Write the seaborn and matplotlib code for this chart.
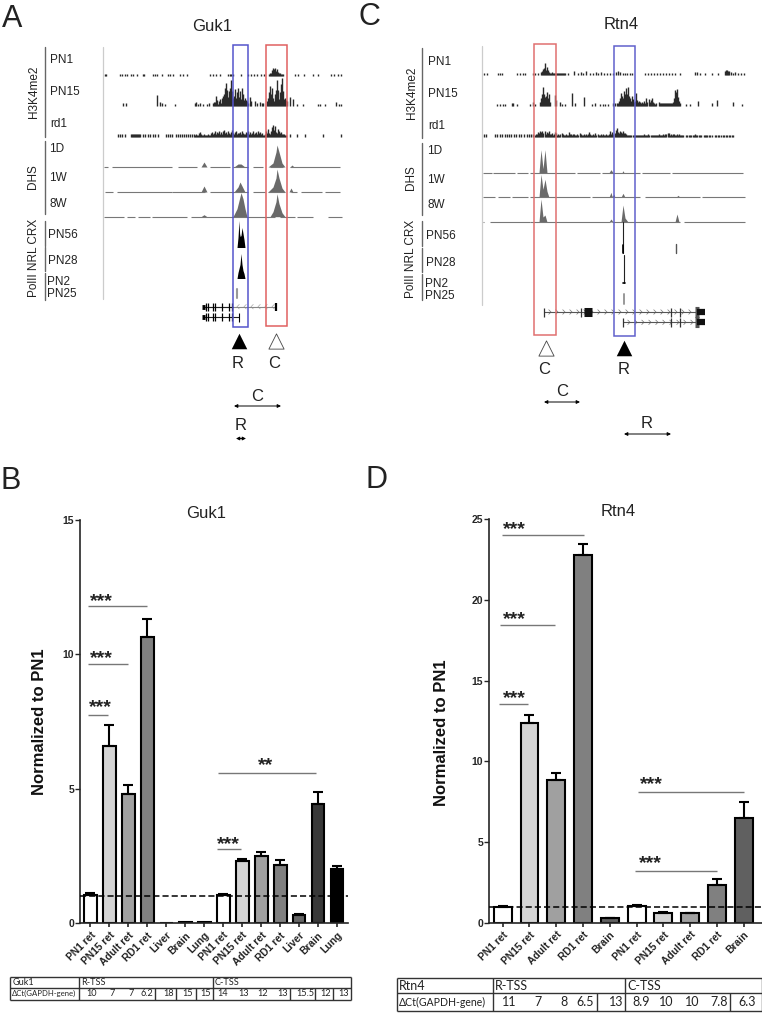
import numpy as np
import pandas as pd
import matplotlib
matplotlib.use('Agg')
import matplotlib.pyplot as plt
from matplotlib.patches import Rectangle
from matplotlib.path import Path
import seaborn as sns

# Bar data, panel B
guk1_labels = ['PN1 ret', 'PN15 ret', 'Adult ret', 'RD1 ret', 'Liver', 'Brain', 'Lung',
               'PN1 ret', 'PN15 ret', 'Adult ret', 'RD1 ret', 'Liver', 'Brain', 'Lung']
guk1_values = [1.05, 6.6, 4.82, 10.65, 0, 0.03, 0.04, 1.05, 2.32, 2.52, 2.18, 0.3, 4.43, 2.02]
guk1_err = [0.07, 0.77, 0.32, 0.68, 0, 0, 0, 0.05, 0.06, 0.14, 0.17, 0.05, 0.47, 0.12]
guk1_colors = ['#ffffff', '#d4d4d4', '#a0a0a0', '#808080', '#666666', '#383838', '#000000',
               '#ffffff', '#d4d4d4', '#a0a0a0', '#808080', '#666666', '#383838', '#000000']
guk1_sig_x0 = [-0.1, -0.1, -0.13, 6.74, 6.67]
guk1_sig_x1 = [3.0, 2.0, 0.95, 11.9, 7.95]
guk1_sig_y = [11.8, 9.65, 7.73, 5.6, 2.75]
guk1_star_x = [0.61, 0.61, 0.55, 9.26, 7.26]
guk1_star_y = [12.1, 9.97, 8.16, 6.0, 3.06]
guk1_stars = ['***', '***', '***', '**', '***']

# Bar data, panel D
rtn4_labels = ['PN1 ret', 'PN15 ret', 'Adult ret', 'RD1 ret', 'Brain',
               'PN1 ret', 'PN15 ret', 'Adult ret', 'RD1 ret', 'Brain']
rtn4_values = [1.0, 12.37, 8.86, 22.8, 0.3, 1.05, 0.62, 0.6, 2.35, 6.48]
rtn4_err = [0.05, 0.5, 0.41, 0.7, 0.02, 0.07, 0.05, 0.03, 0.37, 0.99]
rtn4_colors = ['#ffffff', '#d4d4d4', '#a0a0a0', '#808080', '#606060',
               '#ffffff', '#d4d4d4', '#a0a0a0', '#808080', '#606060']
rtn4_sig_x0 = [-0.03, -0.09, -0.13, 5.06, 4.95]
rtn4_sig_x1 = [3.04, 1.94, 0.94, 9.0, 7.99]
rtn4_sig_y = [24.05, 18.45, 13.55, 8.08, 3.22]
rtn4_star_x = [0.43, 0.42, 0.42, 5.57, 5.51]
rtn4_star_y = [24.6, 19.03, 14.13, 8.78, 3.89]

# Delta Ct tables
guk1_ct = ['10', '7', '7', '6.2', '18', '15', '15', '14', '13', '12', '13', '15.5', '12', '13']
guk1_ct_x = [91.7, 112, 131, 146.7, 169, 188, 205.7, 223, 244, 263, 282.7, 305, 325.7, 344]
rtn4_ct = ['11', '7', '8', '6.5', '13', '8.9', '10', '10', '7.8', '6.3']
rtn4_ct_x = [509, 537.7, 563.7, 585, 616.7, 641, 666.7, 692, 719, 746.7]

# Browser tracks, panel A (position along the view, height)
a_pn1_x = [105, 106, 120, 122, 125, 127, 131, 133, 137, 143, 144, 153, 155, 157, 162, 168, 170, 173, 180, 183, 187,
           210, 213, 216, 220, 228, 230, 231, 233, 241, 248, 251, 254, 257, 261, 264, 295, 298, 304, 313, 318, 331, 334, 338, 341]
a_pn1_peak = [2, 3, 3, 6, 8, 7, 8, 5, 7, 4, 3, 3, 2, 2, 2]
a_pn15_x = [123, 126, 160, 162, 165, 175, 195, 196, 198, 200, 203, 207, 209]
a_pn15_h = [3, 3, 4, 3, 2, 2, 3, 4, 2, 3, 2, 2, 3]
a_pn15_r = [3, 4, 4, 10, 6, 2, 5, 7, 3, 8, 10, 12, 18, 23, 16, 9, 15, 18, 26, 15, 8, 10, 17, 8, 14, 18, 9, 15, 7, 18, 12, 6, 8, 6, 5, 3]
a_pn15_c = [5, 8, 14, 20, 12, 18, 8, 5, 12, 16, 26, 16, 7, 14, 22, 28, 15, 7, 8, 6, 5]
a_pn15_y = [157, 250, 251, 255, 257, 260, 262, 263, 290, 293, 297, 303, 318, 320, 325, 336, 339, 341]
a_pn15_k = [11, 9, 5, 5, 3, 4, 3, 3, 9, 7, 2, 2, 2, 2, 2, 4, 2, 2]
a_rd1_x = [118, 120, 122, 125, 131, 132, 133, 134, 135, 136, 137, 138, 139, 140, 143, 145, 148, 150, 153, 155, 158,
           166, 168, 170, 172, 176, 178, 180, 182, 184, 186, 188, 190, 192, 194, 290, 297, 305, 323, 341]
a_rd1_dense = [2, 3, 2, 2, 4, 5, 3, 2, 2, 3, 2, 2, 2, 3, 2, 2, 4, 5, 3, 4, 6, 3, 5, 4, 6, 3, 5, 3, 6, 7, 4, 5, 3, 6, 4, 3, 5, 7, 4, 3, 5, 6,
               3, 4, 4, 5, 3, 6, 4, 3, 3, 5, 4, 6, 3, 5, 3, 4, 6, 3, 4, 5, 3, 6, 4, 5, 3, 4, 2, 2, 3, 6, 4, 8, 4, 3, 6, 10, 12, 7, 11, 5, 4, 8, 6, 4, 5, 3, 3, 3, 2, 2]
a_dhs_segs = [[(104, 108), (112, 172), (178, 197), (210, 230), (233, 248), (253, 263), (270, 283), (290, 340)],
              [(105, 113), (117, 172), (172, 205), (210, 248), (253, 265), (268, 285), (291, 297), (301, 322), (325, 340)],
              [(104, 124), (127, 135), (138, 150), (152, 187), (191, 275), (280, 295), (297, 313), (328, 342)]]
a_dhs_peaks = [[([201, 204, 207], [0, 5, 0]), ([234, 238, 241, 245], [0, 3, 3, 0]), ([268, 273, 276, 277, 279, 282, 285], [0, 4, 15, 22, 15, 4, 0]), ([290, 292, 294], [0, 2, 0])],
               [([201, 204, 207], [0, 6, 0]), ([234, 238, 240, 242, 245], [0, 5, 10, 6, 0]), ([268, 273, 276, 277, 279, 282, 285], [0, 5, 14, 23, 14, 4, 0]), ([289, 291, 293], [0, 4, 0])],
               [([201, 204, 207], [0, 2, 0]), ([233, 237, 240, 241, 243, 245, 247], [0, 8, 20, 24, 18, 8, 0]), ([270, 273, 276, 277, 279, 282, 285], [0, 5, 15, 23, 13, 4, 0])]]
a_chip_peaks = [([237, 238, 239, 239.6, 240.2, 241, 242, 243, 244, 245], [0, 10, 27, 14, 11, 12, 20, 14, 8, 0]),
                ([237, 238, 240, 241, 242, 243, 244, 245], [0, 6, 14, 25, 14, 8, 5, 0])]

# Browser tracks, panel C
c_pn1_x = [484, 487, 498, 500, 502, 517, 520, 523, 525, 533, 535, 538, 568, 574, 578, 581, 583, 586, 590, 593, 596, 598, 601,
           604, 607, 610, 613, 616, 618, 620, 623, 625, 627, 630, 632, 645, 648, 651, 654, 657, 660, 663, 666, 669, 672, 675,
           680, 695, 697, 700, 705, 712, 718, 725, 726, 727, 728, 729, 731, 733, 735, 738, 741, 744]
c_pn1_h = [2, 2, 2, 2, 2, 2, 2, 2, 2, 2, 2, 2, 2, 4, 2, 3, 2, 4, 2, 2, 3, 2, 3, 2, 2, 2, 2, 3, 4, 3, 2, 2, 2, 2, 2, 2, 2, 2, 2, 2, 2, 2, 2, 2, 2, 2,
           2, 3, 3, 2, 2, 2, 2, 4, 5, 5, 4, 4, 3, 2, 3, 2, 2, 2]
c_pn1_peak = [3, 4, 6, 7, 12, 5, 8, 5, 3, 2, 2, 3, 2, 2, 2, 2, 2, 2, 2, 2, 2, 2, 2, 2, 2]
c_pn15_x = [497, 500, 503, 505, 512, 513, 517, 530, 533, 535, 555, 556, 560, 562, 565, 572, 575, 584, 592, 595, 600, 603, 605, 608, 613, 615, 617, 686, 690, 698, 712, 717, 733, 742]
c_pn15_h = [2, 2, 2, 2, 3, 3, 2, 2, 4, 2, 11, 6, 4, 2, 2, 13, 3, 9, 2, 3, 2, 2, 2, 2, 3, 3, 3, 2, 2, 5, 3, 6, 4, 2]
c_pn15_c = [4, 8, 12, 19, 12, 9, 10, 14, 8, 12, 4]
c_pn15_r = [3, 5, 8, 13, 10, 8, 15, 12, 18, 12, 19, 10, 8, 5, 10, 7, 4, 5,
            13, 6, 4, 5, 4, 3, 4, 3, 5, 3, 8, 4, 0, 7, 4, 6, 8, 4, 3, 2, 3, 0, 0, 4, 3, 3, 3, 3, 3, 3, 3, 3, 3, 3, 3, 3,
            3, 4, 8, 16, 14, 17, 9, 5, 3]
c_rd1_x = [484, 486, 495, 497, 500, 502, 505, 507, 509, 511, 514, 516, 519, 521, 524, 527, 529, 531, 533]
c_rd1_dense = [2, 3, 3, 5, 4, 6, 5, 6, 4, 6, 3, 5, 4, 6, 3, 3, 4, 2, 3, 5, 4, 2, 3, 2, 3, 4, 3, 2, 2, 3, 2, 2, 5, 3, 3, 2, 3, 3, 2, 2, 3, 2, 4, 3, 2,
               2, 3, 2, 3, 2, 3, 5, 3, 2, 2, 3, 2, 4, 2, 3, 2, 2, 3, 2, 3, 2, 2, 3, 2, 2, 3, 6, 3, 5, 3, 4, 7, 9, 5, 4, 6, 5, 4, 6, 4, 4, 3, 2,
               2, 2, 2, 2, 2, 2, 2, 2, 2, 2, 2, 2, 2, 2, 2, 3, 2, 2, 2, 3, 2, 2, 2, 2, 2, 2, 2, 2, 2, 3, 2, 2, 2, 3, 2, 3, 3, 4, 4, 2, 3, 2, 3, 3, 2, 2, 3, 2, 3, 2, 2,
               2, 2, 0, 2, 2, 0, 2, 2, 2, 0, 2, 2, 3, 2, 2, 0, 2, 2, 2, 0, 2, 2, 2, 2, 0, 2, 2, 0, 2, 0, 0, 2, 2, 0, 2, 2, 2, 0, 2, 2, 0, 2, 2, 0, 2, 2, 0, 2, 2]
c_dhs_segs = [[(483, 492), (493, 515), (517, 528), (530, 575), (577, 600), (602, 640), (642, 670), (672, 743)],
              [(483, 495), (498, 510), (512, 528), (530, 590), (592, 640), (645, 700), (702, 745)],
              [(483, 484), (490, 530), (530, 610), (612, 680), (684, 745)]]
c_dhs_peaks = [[([539, 541, 543, 545, 547], [0, 23, 4, 23, 0]), ([609, 611, 613], [0, 3, 0]), ([622, 623, 624], [0, 2, 0])],
               [([539, 541, 543, 545, 547, 549], [0, 23, 8, 18, 6, 0]), ([609, 611, 612, 614, 615], [0, 5, 1, 3, 0]), ([621, 623, 625], [0, 4, 0]), ([676, 678, 680], [0, 2, 0])],
               [([539, 541, 543, 545, 547], [0, 23, 5, 7, 0]), ([609, 611, 613], [0, 3, 0]), ([621, 623, 625, 628], [0, 17, 4, 0]), ([675, 677, 679], [0, 8, 0])]]

sns.set_style('ticks')
plt.rcParams['font.family'] = ['Liberation Sans', 'DejaVu Sans']

W, H = 762, 1013
fig = plt.figure(figsize=(W / 100, H / 100), dpi=100)


def px_axes(x0, y0, x1, y1):
    return fig.add_axes([x0 / W, 1 - y1 / H, (x1 - x0) / W, (y1 - y0) / H])


def bar_panel(box, labels, values, err, colors, xlim, ylim, yticks, sig, star_font=14, lw=1.5, bar_w=0.7):
    ax = px_axes(*box)
    df = pd.DataFrame({'pos': range(len(values)), 'value': values})
    palette = dict(zip(df['pos'], colors))
    sns.barplot(data=df, x='pos', y='value', hue='pos', palette=palette, legend=False, native_scale=True,
                width=bar_w, edgecolor='black', linewidth=lw, errorbar=None, ax=ax)
    err = np.array(err)
    keep = err > 0
    ax.errorbar(df['pos'][keep], df['value'][keep], yerr=[np.zeros(keep.sum()), err[keep]], fmt='none',
                ecolor='black', elinewidth=lw, capsize=3.5, capthick=lw, zorder=1)
    ax.axhline(1, color='black', lw=1.1, ls=(0, (4, 2)), zorder=5)
    ax.set_xlim(xlim)
    ax.set_ylim(ylim)
    ax.set_yticks(yticks)
    ax.set_xticks(df['pos'])
    ax.set_xticklabels(labels, rotation=45, ha='right', rotation_mode='anchor', fontsize=7.4, fontweight='bold', color='#222222')
    ax.tick_params(axis='x', length=3, width=1.2, pad=2)
    ax.tick_params(axis='y', length=3.5, width=1, pad=1, labelsize=7.5)
    for t in ax.get_yticklabels():
        t.set_fontweight('bold')
    ax.set_xlabel('')
    ax.set_ylabel('')
    sns.despine(ax=ax)
    for s in ['left', 'bottom']:
        ax.spines[s].set_linewidth(1.2)
    ax.patch.set_alpha(0)
    x0s, x1s, ys, sx, sy, stars = sig
    ax.hlines(ys, x0s, x1s, color='#777777', lw=1)
    for x, y, s in zip(sx, sy, stars):
        ax.annotate(s, (x, y), xytext=(0, -star_font * 0.42), textcoords='offset points', ha='center', va='baseline',
                    fontsize=star_font, fontweight='bold', color='#222222')
    return ax


bar_panel((80.3, 520, 348, 923.3), guk1_labels, guk1_values, guk1_err, guk1_colors, (-0.526, 13.58), (0, 15),
          [0, 5, 10, 15], (guk1_sig_x0, guk1_sig_x1, guk1_sig_y, guk1_star_x, guk1_star_y, guk1_stars), bar_w=0.68)
bar_panel((489.3, 519.3, 762, 922.7), rtn4_labels, rtn4_values, rtn4_err, rtn4_colors, (-0.5, 9.68), (0, 25),
          [0, 5, 10, 15, 20, 25], (rtn4_sig_x0, rtn4_sig_x1, rtn4_sig_y, rtn4_star_x, rtn4_star_y, ['***'] * 5), bar_w=0.67)

# Everything else lives on a full-figure overlay in pixel coordinates
ov = fig.add_axes([0, 0, 1, 1])
ov.set_xlim(0, W)
ov.set_ylim(H, 0)
ov.axis('off')
ov.patch.set_alpha(0)

TRACK = '#2a2a2a'
DHS = '#6a6a6a'


def bars(x, base, h=2.5, color=TRACK):
    ov.vlines(x, base, base - np.array(h), color=color, lw=1)


def dense(start, h, base, step=1, color=TRACK):
    bars(start + step * np.arange(len(h)), base, h, color)


def dhs(segs, peaks, base):
    for a, b in segs:
        ov.plot([a, b], [base, base], color='#777777', lw=0.8, solid_capstyle='butt')
    for x, h in peaks:
        ov.fill_between(x, base, base - np.array(h), color=DHS, lw=0)


def chip(x, h, base):
    ov.fill_between(x, base, base - np.array(h), color='black', lw=0)


def chevrons(start, stop, y, marker, color):
    ov.scatter(np.arange(start, stop, 7), [y] * len(np.arange(start, stop, 7)), marker=marker, s=12,
               facecolors='none', edgecolors=color, linewidths=0.5)


CHEV_R = Path([(-1, 1), (0, 0), (-1, -1)], [Path.MOVETO, Path.LINETO, Path.LINETO])
CHEV_L = Path([(1, 1), (0, 0), (1, -1)], [Path.MOVETO, Path.LINETO, Path.LINETO])


def side_labels(line_x, gray_x, gray_y, segs, vtexts, texts, size=8.5):
    for y0, y1 in segs:
        ov.plot([line_x, line_x], [y0, y1], color='#666666', lw=1)
    ov.plot([gray_x, gray_x], gray_y, color='#cccccc', lw=0.9)
    for x, y, s in vtexts:
        ov.text(x, y, s, rotation=90, ha='center', va='center', fontsize=size, color='#222222')
    for x, y, s in texts:
        ov.text(x, y, s, ha='left', va='center', fontsize=size, color='#222222')


def box(x0, x1, y0, y1, color):
    ov.add_patch(Rectangle((x0, y0), x1 - x0, y1 - y0, fill=False, edgecolor=color, lw=1.1, zorder=6))


def double_arrow(x0, x1, y):
    ov.annotate('', xy=(x1, y), xytext=(x0, y),
                arrowprops=dict(arrowstyle='<|-|>', lw=0.7, color='black', mutation_scale=5, shrinkA=0, shrinkB=0))


def big(x, y, s, size=12):
    ov.text(x, y, s, ha='center', va='center', fontsize=size, color='#222222')


# Panel A
bars(a_pn1_x, 76)
dense(269, a_pn1_peak, 76)
bars(a_pn15_x, 106, a_pn15_h)
dense(213, a_pn15_r, 106)
dense(267, a_pn15_c, 106)
bars(a_pn15_y, 106, a_pn15_k)
bars(a_rd1_x, 136.5)
dense(195, a_rd1_dense, 136.5)
for segs, peaks, base in zip(a_dhs_segs, a_dhs_peaks, [167, 192, 216.7]):
    dhs(segs, peaks, base)
for (x, h), base in zip(a_chip_peaks, [247.5, 278.5]):
    chip(x, h, base)
ov.plot([237, 237], [289, 298], color='#999999', lw=1.5)
ov.plot([203, 276], [306.7, 306.7], color='#888888', lw=0.8)
ov.plot([203, 233], [306.7, 306.7], color='#222222', lw=0.8)
ov.plot([203, 239], [317.3, 317.3], color='#222222', lw=0.8)
for y in [306.7, 317.3]:
    ov.vlines([206, 208, 213, 215, 222, 229, 232], y - 4, y + 4, color='black', lw=0.9)
    ov.plot([202, 205], [y, y], color='black', lw=3.5, solid_capstyle='butt')
ov.vlines([276], 303, 311, color='black', lw=1.6)
ov.vlines([239], 313, 322, color='black', lw=0.8)
chevrons(237, 274, 306.7, CHEV_L, '#aaaaaa')
box(233, 248, 45, 327, '#5555cc')
box(265.7, 287, 45, 326, '#e06060')
ov.scatter([239], [341], marker='^', s=125, color='black', linewidths=0)
ov.scatter([276], [341], marker='^', s=120, facecolors='white', edgecolors='#444444', linewidths=0.6)
big(238, 363, 'R')
big(274, 363, 'C')
big(257, 396, 'C')
big(241, 425, 'R')
double_arrow(234, 281, 406)
double_arrow(236, 246, 438.5)
side_labels(44.5, 103, [47, 299], [(47, 137), (141, 214), (221, 246), (247, 271), (273, 300)],
            [(34, 92, 'H3K4me2'), (33, 177, 'DHS'), (34, 258, 'PolII NRL CRX')],
            [(50, 60, 'PN1'), (50, 92, 'PN15'), (50, 124, 'rd1'), (49, 149, '1D'), (49, 178, '1W'), (49, 204, '8W'),
             (48, 235, 'PN56'), (48, 261, 'PN28'), (47.5, 282, 'PN2'), (47.5, 294, 'PN25')])

# Panel C
bars(c_pn1_x, 75, c_pn1_h)
dense(541, c_pn1_peak, 75)
bars(c_pn15_x, 105.7, c_pn15_h)
dense(540, c_pn15_c, 105.7)
dense(618, c_pn15_r, 105.7)
bars(c_rd1_x, 136.7)
dense(535, c_rd1_dense, 136.7, step=1.06)
for segs, peaks, base in zip(c_dhs_segs, c_dhs_peaks, [172.7, 197.3, 222]):
    dhs(segs, peaks, base)
ov.plot([623, 623], [222, 253], color='#222222', lw=0.8)
ov.plot([623, 623], [245, 253], color='black', lw=1.2)
ov.plot([623.5, 623.5], [255, 283], color='#222222', lw=0.8)
ov.plot([622.5, 625], [283, 283], color='black', lw=1.2)
ov.plot([676, 676], [244, 253], color='#555555', lw=1)
ov.plot([624, 624], [294, 304], color='#999999', lw=1.4)
for y, start in [(312, 544), (322.3, 623)]:
    ov.plot([start, 697], [y, y], color='#555555', lw=0.8)
    ov.vlines([start, 671, 680], y - 4.5, y + 4.5, color='#333333', lw=0.9)
    ov.plot([695, 699], [y, y], color='#555555', lw=8, solid_capstyle='butt')
    ov.plot([697, 705], [y, y], color='#111111', lw=4.5, solid_capstyle='butt')
    chevrons(start + 7, 696, y, CHEV_R, '#777777')
ov.vlines([581], 307.5, 316.5, color='#333333', lw=0.9)
ov.plot([584, 592], [312, 312], color='#111111', lw=6.5, solid_capstyle='butt')
box(534, 556, 44, 335, '#e07070')
box(614.3, 635, 46, 336, '#6060cc')
ov.scatter([623.7], [348], marker='^', s=125, color='black', linewidths=0)
ov.scatter([546], [348], marker='^', s=120, facecolors='white', edgecolors='#444444', linewidths=0.6)
big(544, 369, 'C')
big(624, 369, 'R')
big(562, 391, 'C')
big(646.7, 423, 'R')
double_arrow(544, 580, 402)
double_arrow(624, 671, 434)
side_labels(422, 481.7, [46, 305], [(48, 138), (143, 215), (221, 246), (248, 272), (274, 300)],
            [(411.5, 93, 'H3K4me2'), (411, 178, 'DHS'), (411, 259, 'PolII NRL CRX')],
            [(428, 62, 'PN1'), (428, 94, 'PN15'), (428, 126, 'rd1'), (427, 151, '1D'), (427, 180, '1W'), (427, 205, '8W'),
             (426, 236, 'PN56'), (426, 263, 'PN28'), (425, 284, 'PN2'), (425, 296, 'PN25')])

# Titles, panel letters, y labels
big(212, 26, 'Guk1')
big(621, 24, 'Rtn4')
big(206, 513, 'Guk1')
big(618, 511, 'Rtn4')
for x, y, s in [(12, 19, 'A'), (369, 17, 'C'), (11, 481, 'B'), (377, 480, 'D')]:
    big(x, y, s, size=22)
for x, y in [(40, 722), (441, 733)]:
    ov.text(x, y, 'Normalized to PN1', rotation=90, ha='center', va='center', fontsize=12, fontweight='bold', color='#111111')


def ct_table(x0, x1, ys, top_cols, bottom_cols, name, ct, ct_x, size, head_size):
    ov.hlines(ys, x0, x1, color='#333333', lw=1)
    ov.vlines([x0, x1], ys[0], ys[2], color='#333333', lw=1)
    ov.vlines(top_cols, ys[0], ys[1], color='#333333', lw=1)
    ov.vlines(bottom_cols, ys[1], ys[2], color='#333333', lw=1)
    fam = ['Lato', 'DejaVu Sans']
    y_top, y_bot = (ys[0] + ys[1]) / 2, (ys[1] + ys[2]) / 2
    ov.text(x0 + 2.5, y_top, name, va='center', fontsize=size, family=fam, color='#222222')
    ov.text(top_cols[0] + 2.5, y_top, 'R-TSS', va='center', fontsize=size, family=fam, color='#222222')
    ov.text(top_cols[1] + 2.5, y_top, 'C-TSS', va='center', fontsize=size, family=fam, color='#222222')
    ov.text(x0 + 2, y_bot, '\u0394Ct(GAPDH-gene)', va='center', fontsize=head_size, family=fam, color='#222222')
    for x, s in zip(ct_x, ct):
        ov.text(x, y_bot, s, ha='center', va='center', fontsize=size, family=fam, color='#222222')


ct_table(10, 351, [976.7, 987.7, 1000], [79, 212.5], [79, 155, 176, 195.7, 212.5, 290, 314.7, 332.7], 'Guk1', guk1_ct, guk1_ct_x, 6.6, 5.6)
ct_table(396.7, 761.5, [977.7, 993.3, 1010.7], [492.7, 625.3], [492.7, 597, 625.3, 730], 'Rtn4', rtn4_ct, rtn4_ct_x, 9, 7.6)

fig.savefig('out.png', dpi=100)
